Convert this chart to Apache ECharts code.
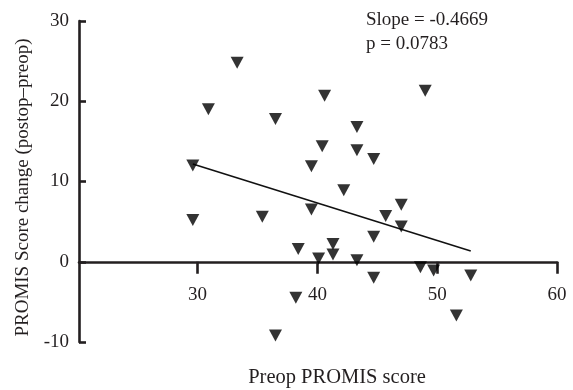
<!DOCTYPE html>
<html>
<head>
<meta charset="utf-8">
<script src="https://cdn.jsdelivr.net/npm/echarts@6/dist/echarts.min.js"></script>
<style>
  html, body { margin: 0; padding: 0; background: #fff; }
  #chart { width: 573px; height: 390px; }
</style>
</head>
<body>
<div id="chart"></div>
<script>
// Preoperative PROMIS score vs. change in score (postop - preop), one point per patient
const preop = [33.3, 30.9, 36.5, 29.6, 29.6, 35.4, 38.4, 38.2, 36.5, 44.7,
               40.6, 43.3, 40.4, 43.3, 44.7, 39.5, 42.2, 39.5, 47.0, 45.7,
               47.0, 44.7, 41.3, 41.3, 40.1, 43.3, 48.6, 49.7, 52.8, 51.6, 49.0];
const change = [24.8, 19.0, 17.8, 12.0, 5.2, 5.6, 1.6, -4.5, -9.2, -2.0,
                20.7, 16.8, 14.4, 13.9, 12.8, 11.9, 8.9, 6.5, 7.1, 5.7,
                4.4, 3.1, 2.2, 0.9, 0.4, 0.2, -0.7, -1.1, -1.7, -6.7, 21.3];

// Linear fit reported on the plot
const slope = -0.4669;
const intercept = 26.0;
const pValue = 0.0783;

const xTicks = [30, 40, 50, 60];
const yTicks = [-10, 0, 10, 20, 30];

const points = preop.map((x, i) => [x, change[i]]);
const xLo = Math.min(...preop), xHi = Math.max(...preop);
const fitLine = [[xLo, intercept + slope * xLo], [xHi, intercept + slope * xHi]];

const ink = '#231f20';
const font = '"Liberation Serif", "DejaVu Serif", serif';

const chart = echarts.init(document.getElementById('chart'), null, { renderer: 'canvas' });
chart.setOption({
  animation: false,
  backgroundColor: '#fff',
  grid: { left: 79, right: 16, top: 21, bottom: 48, containLabel: false, outerBoundsMode: 'none' },
  xAxis: {
    type: 'value',
    min: 20.1,
    max: 60,
    name: 'Preop PROMIS score',
    nameLocation: 'middle',
    nameGap: 25,
    nameTextStyle: { color: ink, fontFamily: font, fontSize: 20.5, padding: [0, 0, 0, 38] },
    axisLine: { onZero: true, lineStyle: { color: ink, width: 2.6 } },
    axisTick: { show: true, inside: false, length: 12, customValues: xTicks,
                lineStyle: { color: ink, width: 2.6 } },
    // tick labels sit just under the zero line
    axisLabel: { customValues: xTicks, margin: -56, color: ink, fontFamily: font, fontSize: 19 },
    splitLine: { show: false }
  },
  yAxis: {
    type: 'value',
    min: yTicks[0],
    max: yTicks[yTicks.length - 1],
    interval: 10,
    name: 'PROMIS Score change (postop\u2013preop)',
    nameLocation: 'middle',
    nameGap: 43,
    nameRotate: 90,
    nameTextStyle: { color: ink, fontFamily: font, fontSize: 19, padding: [0, 12, 0, 0] },
    axisLine: { onZero: false, lineStyle: { color: ink, width: 2.6 } },
    axisTick: { show: true, inside: true, length: 7, lineStyle: { color: ink, width: 2.6 } },
    axisLabel: { margin: 10, color: ink, fontFamily: font, fontSize: 19 },
    splitLine: { show: false }
  },
  series: [
    {
      type: 'line',
      data: fitLine,
      showSymbol: false,
      symbol: 'none',
      lineStyle: { color: '#111', width: 1.6 },
      z: 2
    },
    {
      type: 'scatter',
      data: points,
      symbol: 'path://M0,0 L12,0 L6,11 Z',
      symbolSize: [13, 12],
      itemStyle: { color: '#000' },
      z: 3
    }
  ],
  graphic: [
    {
      type: 'text',
      left: 366,
      top: 11,
      style: { text: 'Slope = ' + slope.toFixed(4), fill: ink, font: '19px ' + font }
    },
    {
      type: 'text',
      left: 366,
      top: 35,
      style: { text: 'p = ' + pValue.toFixed(4), fill: ink, font: '19px ' + font }
    }
  ]
});
</script>
</body>
</html>
